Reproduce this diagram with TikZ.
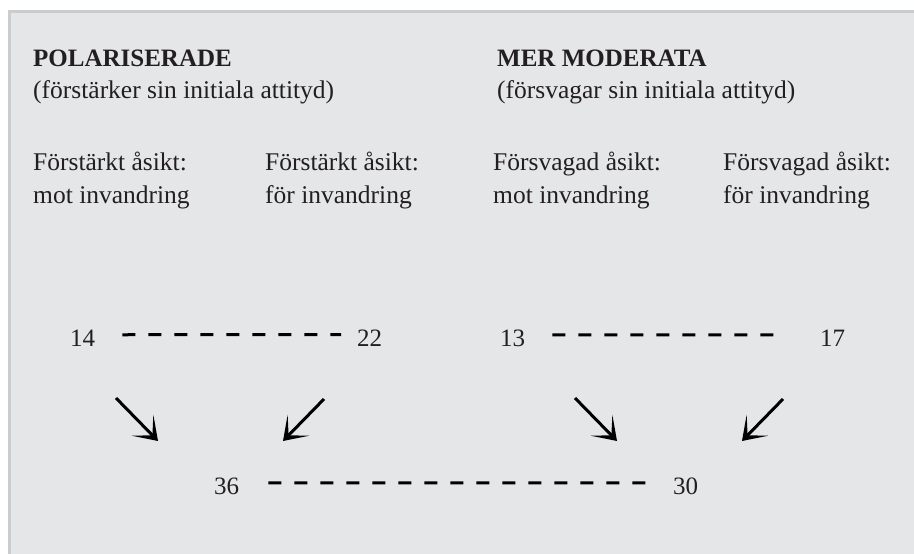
\documentclass[tikz,border=0pt]{standalone}
\usepackage{fontspec}
\setmainfont{Liberation Serif}
\usetikzlibrary{arrows.meta}
\definecolor{bgfill}{HTML}{E5E6E8}
\definecolor{bgline}{HTML}{CBCCCE}
\definecolor{ink}{HTML}{231F20}
\tikzset{
  txt/.style={anchor=base west, inner sep=0pt, align=left, text=ink,
    font=\fontsize{25.5}{33}\selectfont},
  head/.style={txt, font=\fontsize{25}{33}\selectfont\bfseries},
  num/.style={anchor=base west, inner sep=0pt, text=ink, font=\fontsize{25}{28}\selectfont},
  dashline/.style={line width=3pt, draw=black, dash pattern=on 13pt off 13pt},
  arr/.style={line width=3pt, draw=black, -{Stealth[length=22pt, width=30pt, inset=14pt]}}
}
\begin{document}
\begin{tikzpicture}[x=1pt, y=-1pt]
\useasboundingbox (0,0) rectangle (914,554);
\fill[white] (0,0) rectangle (914,554);
\filldraw[fill=bgfill, draw=bgline, line width=3pt] (9.5,11.5) rectangle (930,570);

\node[head] (h1) at (33,66) {POLARISERADE};
\node[txt] (s1) at (33,98) {(förstärker sin initiala attityd)};
\node[head] (h2) at (497,66) {MER MODERATA};
\node[txt] (s2) at (497,98) {(försvagar sin initiala attityd)};

\node[txt] (c1) at (33,203) {Förstärkt åsikt:\\mot invandring};
\node[txt] (c2) at (265,203) {Förstärkt åsikt:\\för invandring};
\node[txt] (c3) at (493,203) {Försvagad åsikt:\\mot invandring};
\node[txt] (c4) at (723,203) {Försvagad åsikt:\\för invandring};

\node[num] (n14) at (70,346) {14};
\node[num] (n22) at (357,346) {22};
\node[num] (n13) at (500,346) {13};
\node[num] (n17) at (820,346) {17};
\node[num] (n36) at (214,494) {36};
\node[num] (n30) at (673,494) {30};

\draw[dashline] ([xshift=27pt,yshift=3pt]n14.east) -- ([xshift=-16pt,yshift=3pt]n22.west);
\draw[dashline] ([xshift=27pt,yshift=3pt]n13.east) -- ([xshift=-44pt,yshift=3pt]n17.west);
\draw[dashline] ([xshift=29pt,yshift=3pt]n36.east) -- ([xshift=-25pt,yshift=3pt]n30.west);

\coordinate (a1s) at (116,398); \coordinate (a1e) at (158,441);
\coordinate (a2s) at (324,399); \coordinate (a2e) at (283,441);
\coordinate (a3s) at (575,398); \coordinate (a3e) at (617,441);
\coordinate (a4s) at (783,399); \coordinate (a4e) at (742,441);
\draw[arr] (a1s) -- (a1e);
\draw[arr] (a2s) -- (a2e);
\draw[arr] (a3s) -- (a3e);
\draw[arr] (a4s) -- (a4e);
\end{tikzpicture}
\end{document}
